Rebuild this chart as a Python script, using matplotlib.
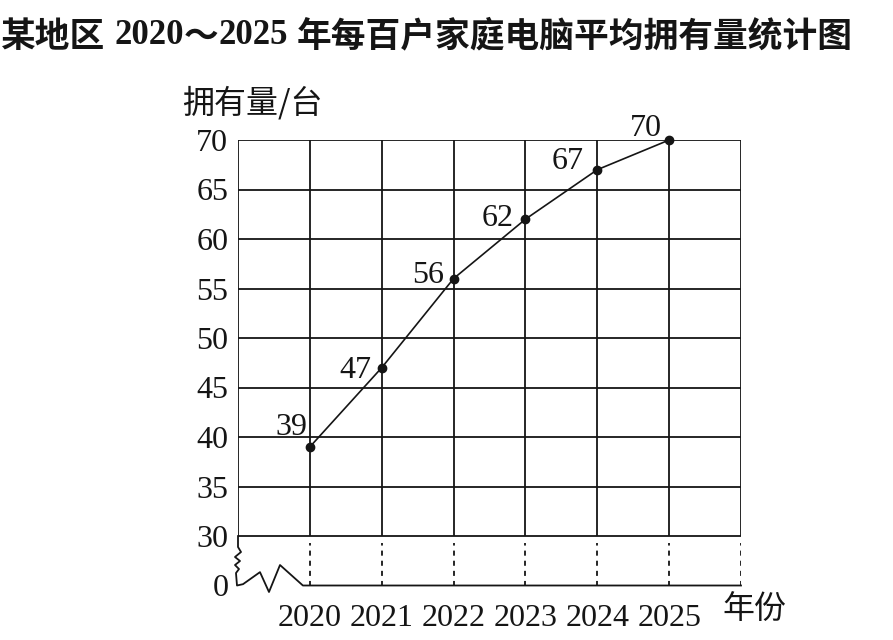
import matplotlib.pyplot as plt

years = [2020, 2021, 2022, 2023, 2024, 2025]
amounts = [39, 47, 56, 62, 67, 70]
y_ticks = [30, 35, 40, 45, 50, 55, 60, 65, 70]
y_tick_labels = ['30', '35', '40', '45', '50', '55', '60', '65', '70']
x_tick_labels = ['2020', '2021', '2022', '2023', '2024', '2025']

# label offsets from the points, pixels
label_offsets = [(-18, 19), (-26, -3), (-25, 3), (-28, 1), (-30, 8), (-23, 12)]

SERIF = ['Liberation Serif', 'DejaVu Serif']
CJK = ['Noto Sans CJK SC', 'DejaVu Sans']
INK = '#151515'

W, H = 893, 640
fig = plt.figure(figsize=(W / 100, H / 100), dpi=100)
ax = fig.add_axes([238 / W, 1 - 585.5 / H, 503 / W, 445.5 / H])

y_zero = 25  # where the "0" sits below the axis break
x_left, x_right = years[0] - 1, years[-1] + 1
ax.set_xlim(x_left, x_right)
ax.set_ylim(y_zero, 70)
for s in ax.spines.values():
    s.set_visible(False)

# grid
cols = years + [x_right]
ax.hlines(y_ticks, x_left, x_right, color=INK, lw=1.3)
ax.vlines(cols, 30, 70, color=INK, lw=1.3)
ax.vlines([x_left], 30, 70, color=INK, lw=1.3)
ax.vlines(cols, y_zero, 29.3, color=INK, lw=1.3, linestyles=(0, (2.8, 2.8)))

# broken axis (axes fraction)
brk_x = [0, 0, 0.006, -0.006, 0.004, -0.006, 0.002, -0.004, -0.002,
         0.010, 0.0437, 0.0616, 0.0835, 0.129, 1.0]
brk_y = [0.111, 0.0864, 0.0752, 0.064, 0.055, 0.046, 0.037, 0.028, 0.0,
         0.003, 0.030, -0.0146, 0.046, 0.0, 0.0]
ax.plot(brk_x, brk_y, color=INK, lw=1.3, transform=ax.transAxes, clip_on=False)

# data
ax.plot(years, amounts, color=INK, lw=1.2, marker='o', ms=6, clip_on=False, zorder=5)
for x, v, off in zip(years, amounts, label_offsets):
    ax.annotate(str(v), (x, v), xytext=off, textcoords='offset pixels',
                ha='center', va='center', fontsize=23, family=SERIF, color=INK)

ax.set_yticks([y_zero] + y_ticks, ['0'] + y_tick_labels)
ax.set_xticks(years, x_tick_labels)
ax.tick_params(length=0, labelsize=23, labelcolor=INK)
ax.tick_params(axis='y', pad=7)
ax.tick_params(axis='x', pad=13)
for lab in ax.get_xticklabels() + ax.get_yticklabels():
    lab.set_family(SERIF)

fig.text(252 / W, 1 - 103 / H, '拥有量/台', fontsize=23, family=CJK,
         fontweight='light', ha='center', va='center', color=INK)
fig.text(754 / W, 1 - 610 / H, '年份', fontsize=23, family=CJK,
         fontweight='light', ha='center', va='center', color=INK)

# title made of pieces in different fonts
renderer = fig.canvas.get_renderer()
pieces = [('某地区', CJK, 25, 9), ('2020', SERIF, 25, 0), ('～', CJK, 25, 0),
          ('2025', SERIF, 25, 9), ('年每百户家庭电脑平均拥有量统计图', CJK, 25, 0)]
x = 1
for text, fam, size, gap in pieces:
    t = fig.text(x / W, 1 - 36 / H, text, fontsize=size, fontweight='bold',
                 family=fam, ha='left', va='center', color=INK)
    x = t.get_window_extent(renderer).x1 + gap

fig.savefig('out.png', dpi=100)
